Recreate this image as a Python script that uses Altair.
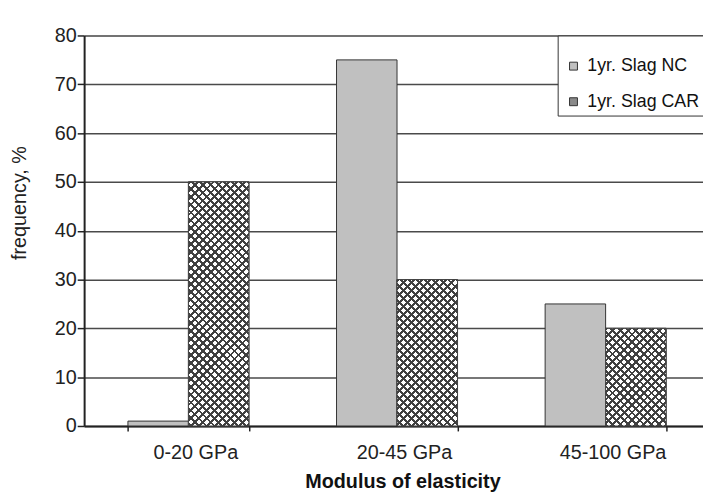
import altair as alt
import pandas as pd

categories = ["0-20 GPa", "20-45 GPa", "45-100 GPa"]
series = ["1yr. Slag NC", "1yr. Slag CAR"]
nc_values = [1, 75, 25]
car_values = [50, 30, 20]
y_ticks = [0, 10, 20, 30, 40, 50, 60, 70, 80]

rows = []
for c, v in zip(categories, nc_values):
    rows.append({"category": c, "series": series[0], "value": v})
for c, v in zip(categories, car_values):
    rows.append({"category": c, "series": series[1], "value": v})
df = pd.DataFrame(rows)

FONT = "Liberation Sans"
PLOT_W, PLOT_H = 626, 395
RANGE_W = 633
PX_PER_UNIT = PLOT_H / 80.0
BAR_W = RANGE_W / 3 * 0.58 / 2

X = alt.X(
    "category:N",
    sort=categories,
    title="Modulus of elasticity",
    scale=alt.Scale(range=[0, RANGE_W], paddingInner=0.42, paddingOuter=0.21),
    axis=alt.Axis(
        tickBand="extent", grid=False, domainColor="#222", domainWidth=2,
        tickColor="#222", tickSize=5, tickWidth=1.5,
        labelFontSize=20, labelFont=FONT, labelColor="#222", labelPadding=12,
        labelAngle=0, labelOffset=7,
        titleFont=FONT, titleFontSize=20, titleFontWeight="bold", titleColor="#111",
        titleX=322, titleY=62, titleBaseline="alphabetic", titleAlign="center",
    ),
)
XO = alt.XOffset("series:N", sort=series,
                 scale=alt.Scale(domain=series, paddingInner=0, paddingOuter=0))
Y = alt.Y(
    "value:Q",
    title="frequency, %",
    scale=alt.Scale(domain=[0, 80], nice=False),
    axis=alt.Axis(
        values=y_ticks, grid=True, gridColor="#4a4a4a", gridWidth=1.5,
        domainColor="#222", domainWidth=2, tickColor="#222", tickSize=7, tickWidth=1.5,
        labelFontSize=20, labelFont=FONT, labelColor="#222", labelPadding=1,
        titleFont=FONT, titleFontSize=20, titleFontWeight="normal", titleColor="#222",
        titleX=-65, titleY=169, titleAngle=270, titleBaseline="middle", titleAlign="center",
    ),
)

base = alt.Chart(df).mark_bar(stroke="#333", strokeWidth=1).encode(
    x=X, xOffset=XO, y=Y,
    color=alt.Color(
        "series:N", sort=series,
        scale=alt.Scale(domain=series, range=["#c0c0c0", "#8a8a8a"]),
        legend=alt.Legend(
            title=" ", titleFontSize=12, titlePadding=5,
            orient="none", legendX=479, legendY=0,
            strokeColor="#333", fillColor="white", padding=5,
            symbolType="square", symbolSize=64, symbolStrokeColor="#333",
            symbolStrokeWidth=1, symbolOffset=2,
            labelFont=FONT, labelFontSize=18, labelColor="#111", labelOffset=5,
            rowPadding=18, labelLimit=300,
        ),
    ),
)


def hatch(h, w, direction, dark, light, period=8.0, frac=0.36):
    r = h / w
    if direction > 0:
        x1, y1, x2, y2 = 0, 0, 1, r
    else:
        x1, y1, x2, y2 = 1, 0, 0, r
    span = w * (1 + r * r)
    n = max(1, int(round(span / period)))
    stops = []
    for i in range(n):
        a = i / n
        m = (i + frac) / n
        b = (i + 1) / n
        stops += [
            alt.GradientStop(offset=a, color=dark),
            alt.GradientStop(offset=m, color=dark),
            alt.GradientStop(offset=m, color=light),
            alt.GradientStop(offset=b, color=light),
        ]
    return alt.LinearGradient(gradient="linear", stops=stops, x1=x1, y1=y1, x2=x2, y2=y2)


layers = [base]
for cat, val in zip(categories, car_values):
    h = val * PX_PER_UNIT
    flt = (alt.datum.series == series[1]) & (alt.datum.category == cat)
    l1 = alt.Chart(df).transform_filter(flt).mark_bar(
        fill=hatch(h, BAR_W, 1, "#404040", "#ffffff"), strokeWidth=0
    ).encode(x=X, xOffset=XO, y=Y)
    l2 = alt.Chart(df).transform_filter(flt).mark_bar(
        fill=hatch(h, BAR_W, -1, "#404040", "rgba(255,255,255,0)"),
        stroke="#444", strokeWidth=1
    ).encode(x=X, xOffset=XO, y=Y)
    layers += [l1, l2]

chart = alt.layer(*layers).properties(
    width=PLOT_W, height=PLOT_H,
    autosize=alt.AutoSizeParams(type="none"),
    padding={"left": 77, "top": 25, "right": 0, "bottom": 66},
).configure_view(stroke=None).configure(font=FONT)

chart.save("out.html", embed_options={"renderer": "svg", "actions": False})
